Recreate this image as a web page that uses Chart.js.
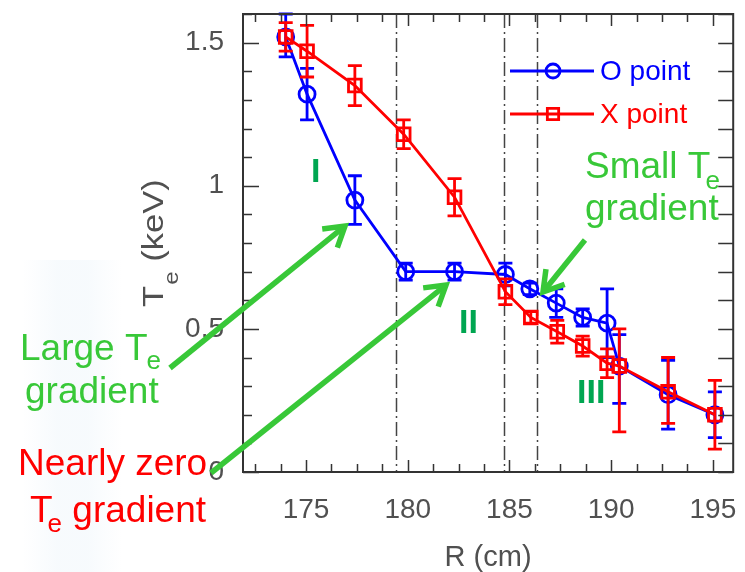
<!DOCTYPE html>
<html>
<head>
<meta charset="utf-8">
<script src="https://cdn.jsdelivr.net/npm/chart.js@4.4.1/dist/chart.umd.min.js"></script>
<style>
  html, body { margin: 0; padding: 0; background: #fff; }
  #wrap { position: relative; width: 745px; height: 572px; }
  #band {
    position: absolute; left: 22px; top: 260px; width: 100px; height: 312px;
    background: linear-gradient(to right, rgba(232,242,250,0), rgba(232,242,250,0.35) 35%, rgba(232,242,250,0.35) 65%, rgba(232,242,250,0));
  }
  canvas { position: absolute; left: 0; top: 0; }
</style>
</head>
<body>
<div id="wrap">
  <div id="band"></div>
  <canvas id="myChart" width="745" height="572"></canvas>
</div>
<script>
const FONT = '"Liberation Sans", Arial, sans-serif';
const BLUE = '#0000ff';
const RED = '#ff0000';
const GREEN = '#38c838';
const DARK_GREEN = '#00a651';
const AXIS = '#333333';
const LABEL = '#505050';

// O point profile (R in cm, Te in keV)
const O_R = [174.0, 175.05, 177.4, 179.9, 182.3, 184.8, 186.0, 187.3, 188.6, 189.8, 190.4, 192.8, 195.1];
const O_TE = [1.52, 1.32, 0.95, 0.70, 0.70, 0.69, 0.64, 0.59, 0.54, 0.52, 0.37, 0.27, 0.20];
const O_ERR_UP = [0.08, 0.09, 0.085, 0.03, 0.03, 0.04, 0.02, 0.05, 0.03, 0.12, 0.11, 0.12, 0.08];
const O_ERR_DN = [0.07, 0.09, 0.085, 0.03, 0.03, 0.04, 0.02, 0.05, 0.03, 0.12, 0.13, 0.12, 0.08];

// X point profile
const X_R = [174.0, 175.05, 177.4, 179.8, 182.3, 184.8, 186.05, 187.35, 188.6, 189.8, 190.4, 192.8, 195.1];
const X_TE = [1.52, 1.47, 1.35, 1.18, 0.96, 0.63, 0.54, 0.49, 0.44, 0.38, 0.37, 0.28, 0.20];
const X_ERR_UP = [0.05, 0.09, 0.07, 0.05, 0.065, 0.045, 0.02, 0.04, 0.035, 0.05, 0.13, 0.12, 0.12];
const X_ERR_DN = [0.05, 0.09, 0.07, 0.05, 0.065, 0.045, 0.02, 0.04, 0.035, 0.05, 0.23, 0.11, 0.12];

// region boundaries (dash-dot lines)
const BOUNDS = [179.4, 184.75, 186.35];

const X_TICKS = [175, 180, 185, 190, 195];
const Y_TICKS = [0, 0.5, 1, 1.5];

function toPoints(xs, ys) {
    return xs.map((x, i) => ({ x: x, y: ys[i] }));
}

// text with optional subscript pieces: [text, isSub]
function drawRich(ctx, x, y, parts, size, subSize, subDy, subDx) {
    let cx = x;
    ctx.textAlign = 'left';
    ctx.textBaseline = 'alphabetic';
    parts.forEach(p => {
        const sub = p[1];
        ctx.font = (sub ? subSize : size) + 'px ' + FONT;
        if (sub) cx += subDx;
        ctx.fillText(p[0], cx, y + (sub ? subDy : 0));
        cx += ctx.measureText(p[0]).width;
    });
}

function arrow(ctx, x1, y1, x2, y2) {
    const a = Math.atan2(y2 - y1, x2 - x1);
    const head = 23;
    ctx.beginPath();
    ctx.moveTo(x1, y1);
    ctx.lineTo(x2 - 3 * Math.cos(a), y2 - 3 * Math.sin(a));
    ctx.stroke();
    ctx.beginPath();
    ctx.moveTo(x2 - head * Math.cos(a - 0.55), y2 - head * Math.sin(a - 0.55));
    ctx.lineTo(x2, y2);
    ctx.lineTo(x2 - head * Math.cos(a + 0.55), y2 - head * Math.sin(a + 0.55));
    ctx.stroke();
}

const boundLines = {
    id: 'boundLines',
    beforeDatasetsDraw(chart) {
        const { ctx, chartArea, scales } = chart;
        ctx.save();
        ctx.strokeStyle = '#444';
        ctx.lineWidth = 1.5;
        ctx.setLineDash([14, 4, 2, 4]);
        BOUNDS.forEach(r => {
            const px = Math.round(scales.x.getPixelForValue(r)) + 0.5;
            ctx.beginPath();
            ctx.moveTo(px, chartArea.top);
            ctx.lineTo(px, chartArea.bottom);
            ctx.stroke();
        });
        ctx.restore();
    }
};

const errorBars = {
    id: 'errorBars',
    afterDatasetDraw(chart, args) {
        const ds = chart.data.datasets[args.index];
        const { x, y } = chart.scales;
        const ctx = chart.ctx;
        ctx.save();
        ctx.strokeStyle = ds.borderColor;
        ctx.lineWidth = 2.8;
        ds.data.forEach((p, i) => {
            const px = x.getPixelForValue(p.x);
            const top = y.getPixelForValue(p.y + ds.errUp[i]);
            const bot = y.getPixelForValue(p.y - ds.errDn[i]);
            ctx.beginPath();
            ctx.moveTo(px, top); ctx.lineTo(px, bot);
            ctx.moveTo(px - 7, top); ctx.lineTo(px + 7, top);
            ctx.moveTo(px - 7, bot); ctx.lineTo(px + 7, bot);
            ctx.stroke();
        });
        ctx.restore();
    }
};

const decorations = {
    id: 'decorations',
    afterDraw(chart) {
        const { ctx, chartArea: ca, scales } = chart;
        const sx = scales.x, sy = scales.y;
        ctx.save();

        // frame
        ctx.strokeStyle = AXIS;
        ctx.lineWidth = 2;
        ctx.strokeRect(ca.left, ca.top, ca.right - ca.left, ca.bottom - ca.top);

        // inward ticks
        ctx.lineWidth = 1.5;
        ctx.beginPath();
        for (let k = 0; k <= 16; k++) {
            const py = Math.round(sy.getPixelForValue(k / 10)) + 0.5;
            const len = k % 5 === 0 ? 16 : 9;
            ctx.moveTo(ca.left, py); ctx.lineTo(ca.left + len, py);
            ctx.moveTo(ca.right, py); ctx.lineTo(ca.right - 15, py);
        }
        for (let k = 0; k <= 18; k++) {
            const r = 172.5 + k * 1.25;
            const px = Math.round(sx.getPixelForValue(r)) + 0.5;
            const len = r % 5 === 0 ? 12 : 8;
            ctx.moveTo(px, ca.bottom); ctx.lineTo(px, ca.bottom - len);
            ctx.moveTo(px, ca.top); ctx.lineTo(px, ca.top + len);
        }
        ctx.stroke();

        // y axis title, rotated, with subscript
        ctx.save();
        ctx.fillStyle = LABEL;
        ctx.translate(163, 307);
        ctx.rotate(-Math.PI / 2);
        ctx.scale(1.15, 1);
        drawRich(ctx, 0, 0, [['T'], ['e', 1], [' (keV)']], 30, 21, 15, 1);
        ctx.restore();

        // legend
        const legendRows = [
            { ds: chart.data.datasets[1], y: 71 },
            { ds: chart.data.datasets[0], y: 114 }
        ];
        legendRows.forEach(row => {
            const c = row.ds.borderColor;
            ctx.strokeStyle = c;
            ctx.fillStyle = 'rgba(0,0,0,0)';
            ctx.lineWidth = 2.8;
            ctx.beginPath();
            ctx.moveTo(510, row.y); ctx.lineTo(594, row.y);
            ctx.stroke();
            Chart.helpers.drawPoint(ctx, {
                pointStyle: row.ds.pointStyle, radius: row.ds.pointRadius - 1, borderWidth: 2.8
            }, 553, row.y);
            ctx.fillStyle = c;
            ctx.font = '28px ' + FONT;
            ctx.textAlign = 'left';
            ctx.textBaseline = 'middle';
            ctx.fillText(row.ds.label, 600, row.y + 1);
        });

        // region numerals
        ctx.fillStyle = DARK_GREEN;
        ctx.font = 'bold 34px ' + FONT;
        ctx.textAlign = 'left';
        ctx.textBaseline = 'alphabetic';
        ctx.fillText('I', 311, 182);
        ctx.fillText('II', 459, 333);
        ctx.fillText('III', 577, 403);

        // notes
        ctx.fillStyle = GREEN;
        drawRich(ctx, 20, 360, [['Large T'], ['e', 1]], 37, 26, 9, -1);
        drawRich(ctx, 25, 403, [['gradient']], 37);
        drawRich(ctx, 585, 178, [['Small T'], ['e', 1]], 37, 26, 11, -5);
        drawRich(ctx, 585, 220, [['gradient']], 37);
        ctx.fillStyle = RED;
        drawRich(ctx, 18, 475, [['Nearly zero']], 37);
        drawRich(ctx, 30, 522, [['T'], ['e', 1], [' gradient']], 37, 26, 10, -5);

        // arrows
        ctx.strokeStyle = GREEN;
        ctx.lineWidth = 5.5;
        ctx.lineJoin = 'miter';
        arrow(ctx, 170, 368, 345, 226);
        arrow(ctx, 211, 473, 446, 285);
        arrow(ctx, 585, 240, 543, 292);

        ctx.restore();
    }
};

let ctx = document.getElementById('myChart').getContext('2d');
let myChart = new Chart(ctx, {
    type: 'scatter',
    data: {
        datasets: [{
            label: 'X point',
            data: toPoints(X_R, X_TE),
            errUp: X_ERR_UP,
            errDn: X_ERR_DN,
            showLine: true,
            borderColor: RED,
            borderWidth: 2.8,
            pointStyle: 'rect',
            pointRadius: 9,
            pointBorderWidth: 2.8,
            pointBorderColor: RED,
            pointBackgroundColor: 'rgba(0,0,0,0)',
            order: 1,
            clip: false
        }, {
            label: 'O point',
            data: toPoints(O_R, O_TE),
            errUp: O_ERR_UP,
            errDn: O_ERR_DN,
            showLine: true,
            borderColor: BLUE,
            borderWidth: 2.8,
            pointStyle: 'circle',
            pointRadius: 8,
            pointBorderWidth: 2.8,
            pointBorderColor: BLUE,
            pointBackgroundColor: 'rgba(0,0,0,0)',
            order: 2,
            clip: false
        }]
    },
    options: {
        responsive: false,
        animation: false,
        events: [],
        layout: { padding: { top: 14, right: 7, left: 0, bottom: 0 } },
        plugins: {
            legend: { display: false },
            tooltip: { enabled: false }
        },
        scales: {
            x: {
                type: 'linear',
                min: 171.9,
                max: 196,
                afterBuildTicks: s => { s.ticks = X_TICKS.map(v => ({ value: v })); },
                afterFit: s => { s.height = 100; s.paddingLeft = 0; s.paddingRight = 0; },
                grid: { display: false, drawTicks: false },
                border: { display: false },
                ticks: {
                    padding: 21,
                    color: LABEL,
                    font: { family: FONT, size: 28 },
                    maxRotation: 0,
                    autoSkip: false,
                    callback: v => String(v)
                },
                title: {
                    display: true,
                    text: 'R (cm)',
                    color: LABEL,
                    font: { family: FONT, size: 29, lineHeight: 1 },
                    padding: { top: 0, bottom: 0 }
                }
            },
            y: {
                min: 0,
                max: 1.6,
                afterBuildTicks: s => { s.ticks = Y_TICKS.map(v => ({ value: v })); },
                afterFit: s => { s.width = 243; s.paddingTop = 0; s.paddingBottom = 0; },
                grid: { display: false, drawTicks: false },
                border: { display: false },
                ticks: {
                    padding: 19,
                    color: LABEL,
                    font: { family: FONT, size: 28 },
                    callback: v => String(v)
                }
            }
        }
    },
    plugins: [boundLines, errorBars, decorations]
});
</script>
</body>
</html>
